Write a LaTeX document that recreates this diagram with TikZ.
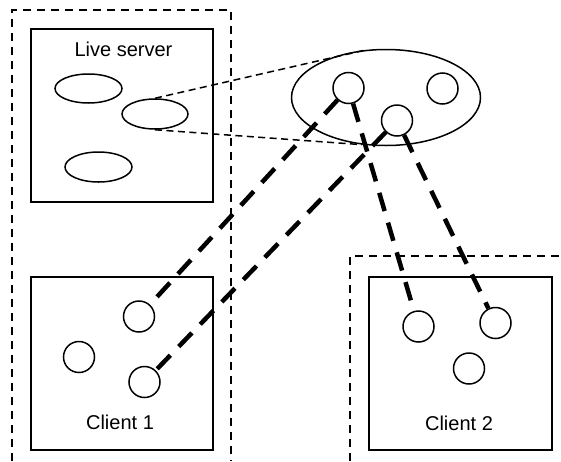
\documentclass[tikz,border=0pt]{standalone}
\usepackage{fontspec}
\setmainfont{Liberation Sans}
\usetikzlibrary{shapes.geometric}
\begin{document}
\begin{tikzpicture}[x=1pt,y=-1pt,
  region/.style={line width=1.7pt,dash pattern=on 8pt off 6pt},
  boxline/.style={draw,line width=1.6pt},
  oval/.style={draw,ellipse,line width=1.5pt,inner sep=0pt},
  dot/.style={draw,circle,line width=1.5pt,inner sep=0pt,minimum size=31pt},
  thin link/.style={line width=1.5pt,dash pattern=on 7pt off 4.5pt},
  thick link/.style={line width=4.5pt,dash pattern=on 19pt off 12pt},
  lbl/.style={font=\fontsize{20}{24}\selectfont,anchor=base,inner sep=0pt}]
\useasboundingbox[fill=white] (0,0) rectangle (561,461);
% dashed regions
\draw[region] (12,461) -- (12,10) -- (231,10) -- (231,461);
\draw[region] (350,461) -- (350,256) -- (561,256);
% boxes
\draw[boxline] (31,29) rectangle (213,202);
\draw[boxline] (31,277) rectangle (213,450);
\draw[boxline] (369,277) rectangle (552,450);
\node[lbl] (tls) at (123.5,56.5) {Live server};
\node[lbl] (tc1) at (120,429) {Client 1};
\node[lbl] (tc2) at (459,430) {Client 2};
% server ellipses
\node[oval,minimum width=67pt,minimum height=29pt] (e1) at (88.5,88.5) {};
\node[oval,minimum width=66pt,minimum height=30pt] (e2) at (155,114) {};
\node[oval,minimum width=67pt,minimum height=30pt] (e3) at (98.5,167) {};
% big ellipse
\node[oval,minimum width=189pt,minimum height=96pt] (big) at (386,97.5) {};
\node[dot] (c1) at (348.5,88) {};
\node[dot] (c2) at (442.5,88.5) {};
\node[dot] (c3) at (397,120.5) {};
% client 1
\node[dot] (c4) at (139,316.5) {};
\node[dot] (c5) at (79,357) {};
\node[dot] (c6) at (144.5,382) {};
% client 2
\node[dot] (c7) at (418.5,326.5) {};
\node[dot] (c8) at (495.5,323) {};
\node[dot] (c9) at (469,368.5) {};
% thin links
\draw[thin link] (e2.north) -- (big.112);
\draw[thin link] (e2.south) -- (big.243);
% thick links
\draw[thick link] (c1) -- (c4);
\draw[thick link] (c3) -- (c6);
\draw[thick link] (c1) -- (c7);
\draw[thick link] (c3) -- (c8);
\end{tikzpicture}
\end{document}
